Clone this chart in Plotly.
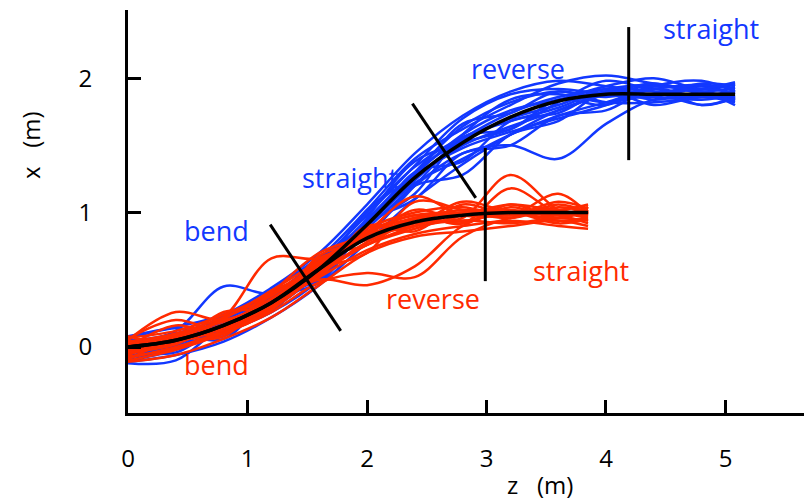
import plotly.graph_objects as go

# ---------------- data ----------------
z_blue = [0, 0.4, 0.8, 1.2, 1.6, 2.0, 2.4, 2.8, 3.2, 3.6, 4.0, 4.4, 4.8, 5.08]
blue_mean = [0, 0.05, 0.16, 0.33, 0.58, 0.91, 1.26, 1.52, 1.71, 1.83, 1.88, 1.88, 1.88, 1.88]
blue_runs = [
    [0.02, 0.12, 0.45, 0.40, 0.62, 0.95, 1.30, 1.55, 1.74, 1.86, 1.92, 1.95, 1.90, 1.93],
    [-0.10, -0.02, 0.12, 0.28, 0.55, 0.88, 1.20, 1.44, 1.50, 1.40, 1.66, 1.84, 1.86, 1.85],
    [0.05, 0.08, 0.20, 0.38, 0.66, 1.02, 1.40, 1.62, 1.80, 1.96, 2.02, 1.96, 1.92, 1.95],
    [-0.05, 0.10, 0.08, 0.36, 0.48, 0.90, 1.14, 1.56, 1.62, 1.84, 1.80, 1.94, 1.98, 1.90],
    [-0.12, -0.10, 0.16, 0.26, 0.66, 0.88, 1.30, 1.38, 1.68, 1.74, 1.90, 1.80, 1.86, 1.82],
    [0.00, 0.06, 0.18, 0.36, 0.64, 0.98, 1.35, 1.70, 1.88, 1.92, 1.88, 1.86, 1.94, 1.88],
    [-0.08, 0.00, 0.13, 0.31, 0.57, 0.90, 1.22, 1.40, 1.58, 1.72, 1.82, 1.92, 1.86, 1.88],
    [0.04, 0.10, 0.22, 0.40, 0.60, 0.92, 1.28, 1.58, 1.76, 1.84, 1.94, 2.00, 1.92, 1.96],
    [-0.06, 0.08, 0.06, 0.38, 0.50, 0.92, 1.10, 1.44, 1.50, 1.72, 1.76, 1.92, 1.80, 1.86],
    [0.03, 0.07, 0.17, 0.35, 0.62, 1.00, 1.34, 1.56, 1.68, 1.78, 1.90, 1.84, 1.88, 1.84],
    [-0.10, -0.01, 0.11, 0.29, 0.54, 0.89, 1.30, 1.64, 1.82, 1.90, 1.86, 1.92, 1.95, 1.92],
    [0.01, 0.05, 0.16, 0.33, 0.59, 0.94, 1.27, 1.48, 1.60, 1.70, 1.80, 1.94, 1.90, 1.80],
    [-0.03, -0.02, 0.24, 0.30, 0.64, 0.82, 1.20, 1.28, 1.58, 1.68, 1.90, 1.86, 1.84, 1.87],
    [0.06, 0.14, 0.10, 0.36, 0.56, 1.02, 1.28, 1.66, 1.74, 1.90, 1.82, 1.82, 1.86, 1.91],
    [-0.04, 0.01, 0.12, 0.36, 0.63, 0.92, 1.24, 1.54, 1.70, 1.80, 1.92, 1.88, 1.96, 1.94],
    [-0.07, 0.02, 0.16, 0.34, 0.57, 0.91, 1.25, 1.50, 1.64, 1.76, 1.88, 1.96, 1.88, 1.83],
    [0.08, 0.15, 0.24, 0.44, 0.70, 1.06, 1.44, 1.72, 1.90, 1.98, 1.94, 1.90, 1.92, 1.97],
    [-0.11, -0.06, 0.04, 0.22, 0.46, 0.78, 1.10, 1.36, 1.58, 1.76, 1.88, 1.94, 1.90, 1.86],
    [0.00, 0.10, 0.12, 0.26, 0.50, 0.96, 1.38, 1.52, 1.62, 1.82, 1.98, 1.90, 1.80, 1.85],
    [-0.02, -0.04, 0.20, 0.42, 0.66, 0.84, 1.20, 1.58, 1.84, 1.88, 1.82, 1.88, 1.92, 1.89],
]

z_red = [0, 0.4, 0.8, 1.2, 1.6, 2.0, 2.4, 2.8, 3.2, 3.6, 3.85]
red_mean = [0, 0.05, 0.16, 0.33, 0.58, 0.81, 0.93, 0.98, 1.0, 1.0, 1.0]
red_runs = [
    [0.05, 0.26, 0.20, 0.36, 0.60, 0.82, 0.95, 1.00, 1.02, 0.98, 1.00],
    [-0.08, 0.00, 0.12, 0.30, 0.54, 0.78, 0.92, 0.96, 1.28, 1.02, 0.96],
    [0.02, 0.08, 0.22, 0.66, 0.66, 0.86, 0.96, 1.02, 1.00, 0.96, 1.02],
    [-0.05, 0.03, 0.15, 0.32, 0.56, 0.85, 1.12, 0.98, 0.98, 1.00, 0.98],
    [0.00, 0.06, 0.17, 0.34, 0.58, 0.70, 1.08, 1.02, 0.96, 1.04, 1.00],
    [-0.10, -0.02, 0.10, 0.26, 0.48, 0.55, 0.52, 0.82, 0.96, 1.00, 0.98],
    [0.07, 0.12, 0.24, 0.40, 0.62, 0.84, 0.98, 0.92, 1.18, 1.00, 1.04],
    [-0.03, 0.04, 0.14, 0.31, 0.50, 0.46, 0.60, 0.90, 1.00, 0.94, 0.96],
    [0.04, 0.10, 0.22, 0.38, 0.62, 0.88, 1.00, 1.04, 0.98, 1.14, 0.99],
    [-0.06, 0.06, 0.08, 0.40, 0.70, 0.82, 0.90, 0.94, 0.92, 0.96, 0.94],
    [0.01, 0.05, 0.16, 0.30, 0.56, 0.76, 0.88, 0.98, 1.06, 1.02, 1.06],
    [-0.09, 0.06, 0.12, 0.42, 0.54, 0.84, 0.90, 1.08, 1.00, 0.98, 0.92],
    [0.03, 0.09, 0.19, 0.33, 0.52, 0.72, 0.84, 0.90, 0.94, 0.90, 0.88],
    [-0.02, 0.07, 0.21, 0.42, 0.64, 0.86, 0.98, 1.00, 0.96, 1.06, 1.00],
    [0.06, 0.20, 0.12, 0.28, 0.64, 0.80, 0.96, 0.92, 1.06, 0.96, 1.02],
    [-0.07, -0.01, 0.11, 0.28, 0.54, 0.76, 0.90, 1.00, 1.00, 1.02, 0.97],
    [0.08, 0.04, 0.26, 0.30, 0.66, 0.76, 0.96, 0.92, 1.04, 0.96, 1.04],
    [-0.11, -0.06, 0.06, 0.22, 0.46, 0.70, 0.82, 0.86, 0.90, 0.94, 0.90],
    [0.00, 0.16, 0.10, 0.40, 0.52, 0.90, 0.86, 1.06, 0.98, 1.08, 1.03],
    [-0.04, 0.02, 0.20, 0.28, 0.68, 0.80, 1.02, 0.94, 1.00, 0.92, 0.95],
]

# segment boundary markers: (z0, x0, z1, x1)
boundaries = [
    (1.19, 0.91, 1.78, 0.12),
    (2.38, 1.81, 2.91, 1.11),
    (2.99, 1.48, 2.99, 0.49),
    (4.19, 2.38, 4.19, 1.39),
]

# phase labels: (text, z, x, colour key)
labels = [
    ("straight", 4.88, 2.37, "blue"),
    ("reverse", 3.26, 2.07, "blue"),
    ("straight", 1.86, 1.26, "blue"),
    ("bend", 0.74, 0.87, "blue"),
    ("bend", 0.74, -0.13, "red"),
    ("reverse", 2.55, 0.36, "red"),
    ("straight", 3.79, 0.57, "red"),
]

x_ticks = [0, 1, 2, 3, 4, 5]
y_ticks = [0, 1, 2]

# ---------------- figure ----------------
BLUE = "#1238ff"
RED = "#ff2a00"
colors = {"blue": BLUE, "red": RED}
FONT = "Open Sans"

fig = go.Figure()

for run in blue_runs:
    fig.add_trace(go.Scatter(x=z_blue, y=run, mode="lines",
                             line=dict(color=BLUE, width=2.5, shape="spline", smoothing=1.0),
                             hoverinfo="skip", showlegend=False))
for run in red_runs:
    fig.add_trace(go.Scatter(x=z_red, y=run, mode="lines",
                             line=dict(color=RED, width=2.5, shape="spline", smoothing=1.0),
                             hoverinfo="skip", showlegend=False))

fig.add_trace(go.Scatter(x=z_blue, y=blue_mean, mode="lines",
                         line=dict(color="black", width=3.5, shape="spline", smoothing=1.0),
                         showlegend=False))
fig.add_trace(go.Scatter(x=z_red, y=red_mean, mode="lines",
                         line=dict(color="black", width=3.5, shape="spline", smoothing=1.0),
                         showlegend=False))

for (z0, x0, z1, x1) in boundaries:
    fig.add_trace(go.Scatter(x=[z0, z1], y=[x0, x1], mode="lines",
                             line=dict(color="black", width=3),
                             showlegend=False))

for text, zz, xx, c in labels:
    fig.add_annotation(x=zz, y=xx, text=text, showarrow=False,
                       font=dict(family=FONT, size=27, color=colors[c]),
                       xanchor="center", yanchor="middle")

fig.add_annotation(xref="paper", yref="paper", x=(540 - 128) / 676, y=(413 - 485) / 403,
                   text="z\u00a0\u00a0\u00a0(m)", showarrow=False,
                   font=dict(family=FONT, size=24, color="black"),
                   xanchor="center", yanchor="middle")
fig.add_annotation(xref="paper", yref="paper", x=(30 - 128) / 676, y=(413 - 145) / 403,
                   text="x\u00a0\u00a0\u00a0(m)", showarrow=False, textangle=-90,
                   font=dict(family=FONT, size=24, color="black"),
                   xanchor="center", yanchor="middle")

fig.update_layout(
    width=804, height=502,
    margin=dict(l=128, r=0, t=10, b=89, autoexpand=False),
    paper_bgcolor="white", plot_bgcolor="white",
    font=dict(family=FONT, size=24, color="black"),
)
fig.update_xaxes(range=[0, 5.657], tickvals=x_ticks, ticks="inside", ticklen=13, tickwidth=3,
                 tickcolor="black", showline=True, linecolor="black", linewidth=3,
                 showgrid=False, zeroline=False, ticklabelstandoff=22, automargin=False,
                 tickfont=dict(family=FONT, size=24, color="black"))
fig.update_yaxes(range=[-0.491, 2.507], tickvals=y_ticks, ticks="inside", ticklen=13, tickwidth=3,
                 tickcolor="black", showline=True, linecolor="black", linewidth=3,
                 showgrid=False, zeroline=False, ticklabelstandoff=28, automargin=False,
                 tickfont=dict(family=FONT, size=24, color="black"))

fig.write_html("out.html", config={"displayModeBar": False},
               post_script="document.body.style.margin='0';document.body.style.overflow='hidden';")
